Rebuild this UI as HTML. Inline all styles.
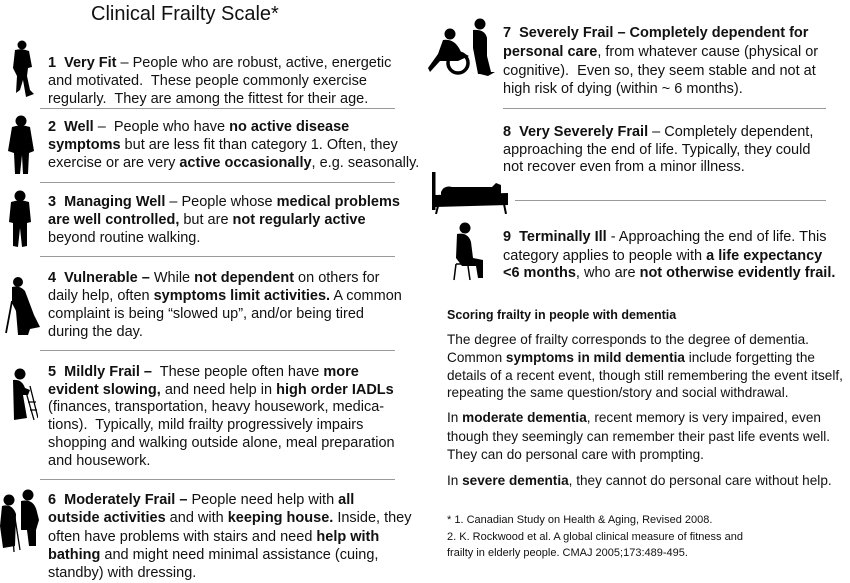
<!DOCTYPE html>
<html><head><meta charset="utf-8"><style>
body{margin:0;background:#fff;width:850px;height:583px;position:relative;overflow:hidden;font-family:"Liberation Sans",sans-serif;color:#111}
.l{position:absolute;white-space:nowrap;font-size:14.5px;line-height:18px;height:18px}
.s{position:absolute;white-space:nowrap;font-size:13.6px;line-height:18px}
.f{position:absolute;white-space:nowrap;font-size:11px;line-height:16px}
.r{position:absolute;height:1px;background:#999}
b{font-weight:bold}
svg{position:absolute}
</style></head><body>
<div style="position:absolute;left:91px;top:1px;font-size:20px;line-height:26px;white-space:nowrap">Clinical Frailty Scale*</div>

<div class="l" style="left:48px;top:54px"><b>1&nbsp; Very Fit</b> – People who are robust, active, energetic</div>
<div class="l" style="left:48px;top:72px">and motivated.&nbsp; These people commonly exercise</div>
<div class="l" style="left:48px;top:90px">regularly.&nbsp; They are among the fittest for their age.</div>
<div class="r" style="left:40px;top:108px;width:355px"></div>

<div class="l" style="left:48px;top:118px"><b>2&nbsp; Well</b> –&nbsp; People who have <b>no active disease</b></div>
<div class="l" style="left:48px;top:136px"><b>symptoms</b> but are less fit than category 1. Often, they</div>
<div class="l" style="left:48px;top:154px">exercise or are very <b>active occasionally</b>, e.g. seasonally.</div>
<div class="r" style="left:40px;top:182px;width:355px"></div>

<div class="l" style="left:48px;top:193px"><b>3&nbsp; Managing Well</b> – People whose <b>medical problems</b></div>
<div class="l" style="left:48px;top:211px"><b>are well controlled,</b> but are <b>not regularly active</b></div>
<div class="l" style="left:48px;top:229px">beyond routine walking.</div>
<div class="r" style="left:40px;top:256px;width:355px"></div>

<div class="l" style="left:48px;top:269px"><b>4&nbsp; Vulnerable –</b> While <b>not dependent</b> on others for</div>
<div class="l" style="left:48px;top:287px">daily help, often <b>symptoms limit activities.</b> A common</div>
<div class="l" style="left:48px;top:305px">complaint is being “slowed up”, and/or being tired</div>
<div class="l" style="left:48px;top:323px">during the day.</div>
<div class="r" style="left:40px;top:350px;width:355px"></div>

<div class="l" style="left:48px;top:363px"><b>5&nbsp; Mildly Frail –</b>&nbsp; These people often have <b>more</b></div>
<div class="l" style="left:48px;top:381px"><b>evident slowing,</b> and need help in <b>high order IADLs</b></div>
<div class="l" style="left:48px;top:398px">(finances, transportation, heavy housework, medica-</div>
<div class="l" style="left:48px;top:416px">tions).&nbsp; Typically, mild frailty progressively impairs</div>
<div class="l" style="left:48px;top:434px">shopping and walking outside alone, meal preparation</div>
<div class="l" style="left:48px;top:452px">and housework.</div>
<div class="r" style="left:40px;top:479px;width:355px"></div>

<div class="l" style="left:48px;top:491px"><b>6&nbsp; Moderately Frail –</b> People need help with <b>all</b></div>
<div class="l" style="left:48px;top:509px"><b>outside activities</b> and with <b>keeping house.</b> Inside, they</div>
<div class="l" style="left:48px;top:528px">often have problems with stairs and need <b>help with</b></div>
<div class="l" style="left:48px;top:546px"><b>bathing</b> and might need minimal assistance (cuing,</div>
<div class="l" style="left:48px;top:564px">standby) with dressing.</div>

<div class="l" style="left:503px;top:24px"><b>7&nbsp; Severely Frail – Completely dependent for</b></div>
<div class="l" style="left:503px;top:43px"><b>personal care</b>, from whatever cause (physical or</div>
<div class="l" style="left:503px;top:62px">cognitive).&nbsp; Even so, they seem stable and not at</div>
<div class="l" style="left:503px;top:80px">high risk of dying (within ~ 6 months).</div>
<div class="r" style="left:503px;top:108px;width:323px"></div>

<div class="l" style="left:503px;top:123px"><b>8&nbsp; Very Severely Frail</b> – Completely dependent,</div>
<div class="l" style="left:503px;top:141px">approaching the end of life. Typically, they could</div>
<div class="l" style="left:503px;top:158px">not recover even from a minor illness.</div>
<div class="r" style="left:515px;top:200px;width:311px"></div>

<div class="l" style="left:503px;top:228px"><b>9&nbsp; Terminally Ill</b> - Approaching the end of life. This</div>
<div class="l" style="left:503px;top:247px">category applies to people with <b>a life expectancy</b></div>
<div class="l" style="left:503px;top:264px"><b>&lt;6 months</b>, who are <b>not otherwise evidently frail.</b></div>

<div class="s" style="left:447px;top:306px;font-size:12.5px"><b>Scoring frailty in people with dementia</b></div>
<div class="s" style="left:447px;top:331px">The degree of frailty corresponds to the degree of dementia.</div>
<div class="s" style="left:447px;top:349px">Common <b>symptoms in mild dementia</b> include forgetting the</div>
<div class="s" style="left:447px;top:367px">details of a recent event, though still remembering the event itself,</div>
<div class="s" style="left:447px;top:384px">repeating the same question/story and social withdrawal.</div>
<div class="s" style="left:447px;top:409px">In <b>moderate dementia</b>, recent memory is very impaired, even</div>
<div class="s" style="left:447px;top:428px">though they seemingly can remember their past life events well.</div>
<div class="s" style="left:447px;top:446px">They can do personal care with prompting.</div>
<div class="s" style="left:447px;top:472px">In <b>severe dementia</b>, they cannot do personal care without help.</div>

<div class="f" style="left:447px;top:512px">* 1. Canadian Study on Health &amp; Aging, Revised 2008.</div>
<div class="f" style="left:447px;top:529px">2. K. Rockwood et al. A global clinical measure of fitness and</div>
<div class="f" style="left:447px;top:545px">frailty in elderly people. CMAJ 2005;173:489-495.</div>

<!-- icons -->
<svg style="left:8px;top:40px" width="26" height="58"><circle cx="14" cy="5" r="4.5"/><path d="M7 10 Q14 8 21 11 L24 27 L20 28 L19 36 L22 50 L26 54 L18 57 L15 40 L12 50 L8 53 L9 36 L5 28 Z"/></svg>
<svg style="left:7px;top:115px" width="28" height="62"><circle cx="14" cy="6" r="5.5"/><path d="M5 12 Q14 9 23 12 L27 36 L22 38 L21 59 L16 59 L15 40 L13 59 L8 59 L7 38 L1 36 Z"/></svg>
<svg style="left:8px;top:190px" width="24" height="58"><circle cx="12" cy="6" r="5.5"/><path d="M3 12 Q12 9 21 12 L23 32 L19 33 L19 56 L14 57 L12 38 L10 57 L5 56 L5 33 L1 32 Z"/></svg>
<svg style="left:4px;top:275px" width="36" height="62"><circle cx="14" cy="7" r="5"/><path d="M8 12 Q16 10 21 16 L30 40 L36 52 L26 54 L24 60 L14 60 L12 36 L8 28 Z"/><path d="M8 26 L2 58" stroke="#000" stroke-width="1.8"/></svg>
<svg style="left:8px;top:368px" width="30" height="56"><circle cx="12" cy="6" r="5.5"/><path d="M5 12 Q14 11 17 20 L22 22 L20 27 L15 27 L19 50 L6 52 Z"/><path d="M22 18 L30 50 M18 24 L26 52 M20 34 L28 34 M22 42 L29 42" stroke="#000" stroke-width="1.3"/></svg>
<svg style="left:0px;top:488px" width="40" height="66"><circle cx="9" cy="12" r="5.5"/><path d="M2 18 Q12 15 16 26 L15 58 L3 60 L0 38 Z"/><circle cx="28" cy="7" r="5.5"/><path d="M21 13 Q34 10 37 24 L39 32 L36 42 L36 58 L29 58 L27 42 L21 42 Z"/><path d="M15 30 L20 62 M12 32 L14 64" stroke="#000" stroke-width="1.3"/></svg>
<svg style="left:428px;top:18px" width="68" height="58"><circle cx="52" cy="6" r="5.5"/><path d="M45 12 Q57 11 59 20 L59 38 L63 54 L67 54 L60 58 L52 56 L50 56 L45 30 Z"/><circle cx="22" cy="16" r="5.5"/><path d="M15 22 Q27 20 33 34 L41 38 L30 43 L12 43 L2 54 L0 50 L10 36 Z"/><circle cx="30" cy="45" r="10" fill="none" stroke="#000" stroke-width="3.5"/></svg>
<svg style="left:432px;top:168px" width="78" height="46"><rect x="0" y="4" width="3.5" height="38"/><path d="M3 27 L76 25 L76 37 L3 39 Z"/><path d="M9 24 Q12 17 20 19 L60 19 L64 15 L69 17 L69 26 L9 28 Z"/><path d="M6 38 L4 46 M72 36 L74 46" stroke="#000" stroke-width="2"/></svg>
<svg style="left:452px;top:222px" width="34" height="60"><circle cx="13" cy="6" r="5.5"/><path d="M5 12 Q16 10 19 20 L21 36 L31 38 L31 56 L26 56 L24 44 L10 44 L4 36 Z"/><path d="M4 42 L2 58 M16 44 L18 58 M4 42 L20 42" stroke="#000" stroke-width="1.5" fill="none"/></svg>
</body></html>
